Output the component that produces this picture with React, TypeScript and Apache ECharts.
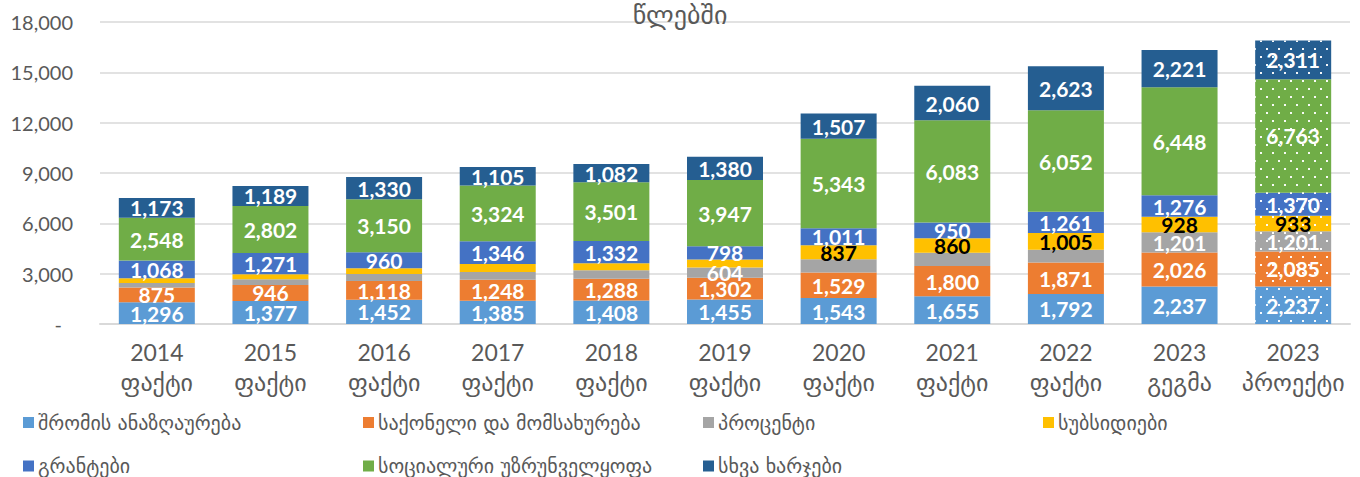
import React, { useEffect, useRef } from "react";
import * as echarts from "echarts";

const years = ["2014", "2015", "2016", "2017", "2018", "2019", "2020", "2021", "2022", "2023", "2023"];
const kinds = ["ფაქტი", "ფაქტი", "ფაქტი", "ფაქტი", "ფაქტი", "ფაქტი", "ფაქტი", "ფაქტი", "ფაქტი", "გეგმა", "პროექტი"];
const projected = [false, false, false, false, false, false, false, false, false, false, true];

const seriesNames = [
  "შრომის ანაზღაურება",
  "საქონელი და მომსახურება",
  "პროცენტი",
  "სუბსიდიები",
  "გრანტები",
  "სოციალური უზრუნველყოფა",
  "სხვა ხარჯები",
];
const seriesColors = ["#5B9BD5", "#ED7D31", "#A5A5A5", "#FFC000", "#4472C4", "#70AD47", "#255E91"];
const labelColors = ["#FFFFFF", "#FFFFFF", "#FFFFFF", "#000000", "#FFFFFF", "#FFFFFF", "#FFFFFF"];

const labour = [1296, 1377, 1452, 1385, 1408, 1455, 1543, 1655, 1792, 2237, 2237];
const goods = [875, 946, 1118, 1248, 1288, 1302, 1529, 1800, 1871, 2026, 2085];
const interest = [270, 340, 410, 470, 510, 604, 780, 790, 760, 1201, 1201];
const subsidies = [280, 300, 340, 480, 410, 480, 837, 860, 1005, 928, 933];
const grants = [1068, 1271, 960, 1346, 1332, 798, 1011, 950, 1261, 1276, 1370];
const social = [2548, 2802, 3150, 3324, 3501, 3947, 5343, 6083, 6052, 6448, 6763];
const other = [1173, 1189, 1330, 1105, 1082, 1380, 1507, 2060, 2623, 2221, 2311];

const allShown = [true, true, true, true, true, true, true, true, true, true, true];
const interestShown = [false, false, false, false, false, true, false, false, false, true, true];
const subsidiesShown = [false, false, false, false, false, false, true, true, true, true, true];

const seriesValues = [labour, goods, interest, subsidies, grants, social, other];
const seriesLabelShown = [allShown, allShown, interestShown, subsidiesShown, allShown, allShown, allShown];

const yTicks = { min: 0, max: 18000, interval: 3000 };

const FONT = "Lato, 'DejaVu Sans', sans-serif";
const GEO_FONT = "'DejaVu Sans', Lato, sans-serif";
const TEXT_COLOR = "#595959";

function fmt(v: number): string {
  return v.toLocaleString("en-US");
}

export default function App() {
  const ref = useRef<HTMLDivElement>(null);

  useEffect(() => {
    if (!ref.current) return;
    const chart = echarts.init(ref.current, undefined, { renderer: "svg" });

    const decal = {
      symbol: "rect",
      symbolSize: 1,
      color: "rgba(255,255,255,0.95)",
      dashArrayX: [
        [2, 10],
        [0, 6, 2, 4],
      ],
      dashArrayY: [2, 6],
    };

    const series = seriesNames.map((name, si) => ({
      name,
      type: "bar",
      stack: "total",
      barWidth: 76,
      itemStyle: { color: seriesColors[si] },
      label: {
        show: true,
        position: "inside",
        color: labelColors[si],
        fontFamily: FONT,
        fontWeight: "bold",
        fontSize: 21,
        formatter: (p: any) => fmt(p.value),
      },
      data: seriesValues[si].map((v, i) => {
        const item: any = { value: v };
        if (!seriesLabelShown[si][i]) item.label = { show: false };
        if (projected[i]) item.itemStyle = { color: seriesColors[si], decal };
        return item;
      }),
    }));

    const legends = seriesNames.map((name, i) => ({
      data: [name],
      left: 23 + (i % 4) * 340,
      top: 412.5 + Math.floor(i / 4) * 43.5,
      padding: 0,
      itemWidth: 11,
      itemHeight: 11,
      itemGap: 4,
      icon: "rect",
      textStyle: {
        fontFamily: GEO_FONT,
        fontSize: 20,
        lineHeight: 18,
        color: TEXT_COLOR,
        padding: [0, 0, 0, -1],
      },
      selectedMode: false,
    }));

    chart.setOption({
      animation: false,
      aria: { enabled: false, decal: { show: false } },
      title: {
        text: "წლებში",
        left: "center",
        top: -3,
        textStyle: { fontFamily: GEO_FONT, fontSize: 26, fontWeight: "normal", color: TEXT_COLOR },
      },
      legend: legends,
      grid: { left: 100, right: 10, top: 22, bottom: 153 },
      xAxis: {
        type: "category",
        data: years.map((y, i) => y + "\n" + kinds[i]),
        axisTick: { show: false },
        axisLine: { lineStyle: { color: "#D9D9D9", width: 2 } },
        axisLabel: {
          color: TEXT_COLOR,
          fontFamily: FONT,
          fontSize: 22,
          lineHeight: 31,
          margin: 12,
          interval: 0,
          formatter: (v: string) => {
            const [y, k] = v.split("\n");
            return "{y|" + y + "}\n{k|" + k + "}";
          },
          rich: {
            y: { fontFamily: FONT, fontSize: 23, lineHeight: 31, color: TEXT_COLOR },
            k: { fontFamily: GEO_FONT, fontSize: 24, lineHeight: 31, color: TEXT_COLOR },
          },
        },
      },
      yAxis: {
        type: "value",
        min: yTicks.min,
        max: yTicks.max,
        interval: yTicks.interval,
        axisLine: { show: false },
        axisTick: { show: false },
        splitLine: { lineStyle: { color: "#D9D9D9", width: 1.5 } },
        axisLabel: {
          color: TEXT_COLOR,
          fontFamily: FONT,
          fontSize: 20,
          margin: 27,
          formatter: (v: number) => (v === 0 ? "{dash|-}" : fmt(v)),
          rich: { dash: { fontFamily: FONT, fontSize: 20, color: TEXT_COLOR, padding: [0, 11, 0, 0] } },
        },
      },
      series,
    });

    return () => chart.dispose();
  }, []);

  return (
    <div
      ref={ref}
      style={{ position: "fixed", left: 0, top: 0, width: 1360, height: 477, background: "#fff" }}
    />
  );
}
